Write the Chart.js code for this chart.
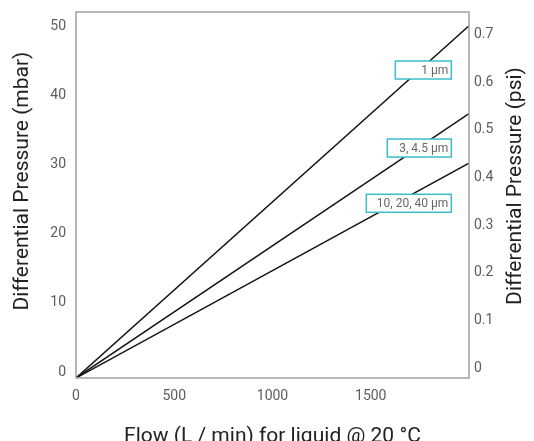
<!DOCTYPE html>
<html>
<head>
<meta charset="utf-8">
<script src="https://cdn.jsdelivr.net/npm/chart.js@4/dist/chart.umd.min.js"></script>
<style>
  html, body { margin: 0; padding: 0; background: #fff; }
  #wrap { width: 534px; height: 441px; position: relative; }
</style>
</head>
<body>
<div id="wrap"><canvas id="lineChart"></canvas></div>
<script>
// Flow (L/min) at the two ends of each straight line
const flow = [0, 2000];

// Differential pressure (mbar) per filter rating
const seriesNames = ['1 µm', '3, 4.5 µm', '10, 20, 40 µm'];
const pressure1 = [0, 51.0];
const pressure3 = [0, 38.3];
const pressure10 = [0, 31.1];

// Label boxes: right edge flow, centre pressure (mbar)
const labelFlow = [1910, 1910, 1910];
const labelPressure = [44.6, 33.3, 25.3];
const labelBoxWidth = [56, 64, 85];

// Axis ranges / ticks / titles
const flowTicks = [0, 500, 1000, 1500];
const mbarMax = 53;
const MBAR_PER_PSI = 68.9476;
const titleX = 'Flow (L / min) for liquid @ 20 °C';
const titleLeft = 'Differential Pressure (mbar)';
const titleRight = 'Differential Pressure (psi)';

const ctx = document.getElementById('lineChart');
const FONT = 'Roboto, "DejaVu Sans", sans-serif';

function toPoints(ys) {
    return flow.map((x, i) => ({ x: x, y: ys[i] }));
}

// Grey frame around plot, boxed labels, axis titles
const framePlugin = {
    id: 'frame',
    afterDatasetsDraw(chart) {
        const { ctx, chartArea: a, scales } = chart;
        ctx.save();
        ctx.strokeStyle = '#a59f94';
        ctx.lineWidth = 1.5;
        ctx.strokeRect(a.left, a.top, a.right - a.left, a.bottom - a.top);

        ctx.font = '12px ' + FONT;
        ctx.textAlign = 'right';
        ctx.textBaseline = 'middle';
        seriesNames.forEach((name, i) => {
            const right = scales.x.getPixelForValue(labelFlow[i]);
            const cy = scales.y.getPixelForValue(labelPressure[i]);
            const w = labelBoxWidth[i];
            const h = 18;
            ctx.fillStyle = '#fff';
            ctx.fillRect(right - w, cy - h / 2, w, h);
            ctx.strokeStyle = '#3cbccc';
            ctx.lineWidth = 1.5;
            ctx.strokeRect(right - w, cy - h / 2, w, h);
            ctx.fillStyle = '#666';
            ctx.fillText(name, right - 3, cy + 1);
        });

        // axis titles
        ctx.fillStyle = '#222';
        ctx.font = '21px ' + FONT;
        ctx.textAlign = 'center';
        ctx.fillText(titleX, (a.left + a.right) / 2, 437);
        [[titleLeft, 23, 181], [titleRight, 516, 186]].forEach(([t, x, y]) => {
            ctx.save();
            ctx.translate(x, y);
            ctx.rotate(-Math.PI / 2);
            ctx.fillText(t, 0, 0);
            ctx.restore();
        });
        ctx.restore();
    }
};

function fitVertical(width) {
    return (s) => {
        s.width = width;
        s.paddingTop = 0;
        s.paddingBottom = 0;
    };
}

new Chart(ctx, {
    type: 'line',
    data: {
        datasets: [pressure1, pressure3, pressure10].map((ys, i) => ({
            label: seriesNames[i],
            data: toPoints(ys),
            borderColor: '#141414',
            borderWidth: 1.5,
            pointRadius: 0,
            tension: 0
        }))
    },
    options: {
        responsive: true,
        maintainAspectRatio: false,
        animation: false,
        layout: { padding: { top: 12, left: 0, right: 0, bottom: 0 } },
        plugins: {
            legend: { display: false },
            tooltip: { enabled: false }
        },
        scales: {
            x: {
                type: 'linear',
                min: 0,
                max: 2000,
                grid: { display: false, drawTicks: false },
                border: { display: false },
                afterBuildTicks: (s) => { s.ticks = flowTicks.map(v => ({ value: v })); },
                ticks: {
                    color: '#5c5c5c',
                    font: { family: FONT, size: 14 },
                    padding: 10,
                    callback: (v) => String(v)
                },
                afterFit: (s) => { s.height = 63; }
            },
            y: {
                position: 'left',
                min: 0,
                max: mbarMax,
                grid: { display: false, drawTicks: false },
                border: { display: false },
                ticks: {
                    stepSize: 10,
                    includeBounds: false,
                    color: '#5c5c5c',
                    font: { family: FONT, size: 14 },
                    padding: 10,
                    labelOffset: -6
                },
                afterFit: fitVertical(76)
            },
            y1: {
                position: 'right',
                min: 0,
                max: mbarMax / MBAR_PER_PSI,
                grid: { display: false, drawTicks: false },
                border: { display: false },
                ticks: {
                    stepSize: 0.1,
                    includeBounds: false,
                    color: '#5c5c5c',
                    font: { family: FONT, size: 14 },
                    padding: 5,
                    labelOffset: -10,
                    callback: (v) => v === 0 ? '0' : v.toFixed(1)
                },
                afterFit: fitVertical(65)
            }
        }
    },
    plugins: [framePlugin]
});
</script>
</body>
</html>
